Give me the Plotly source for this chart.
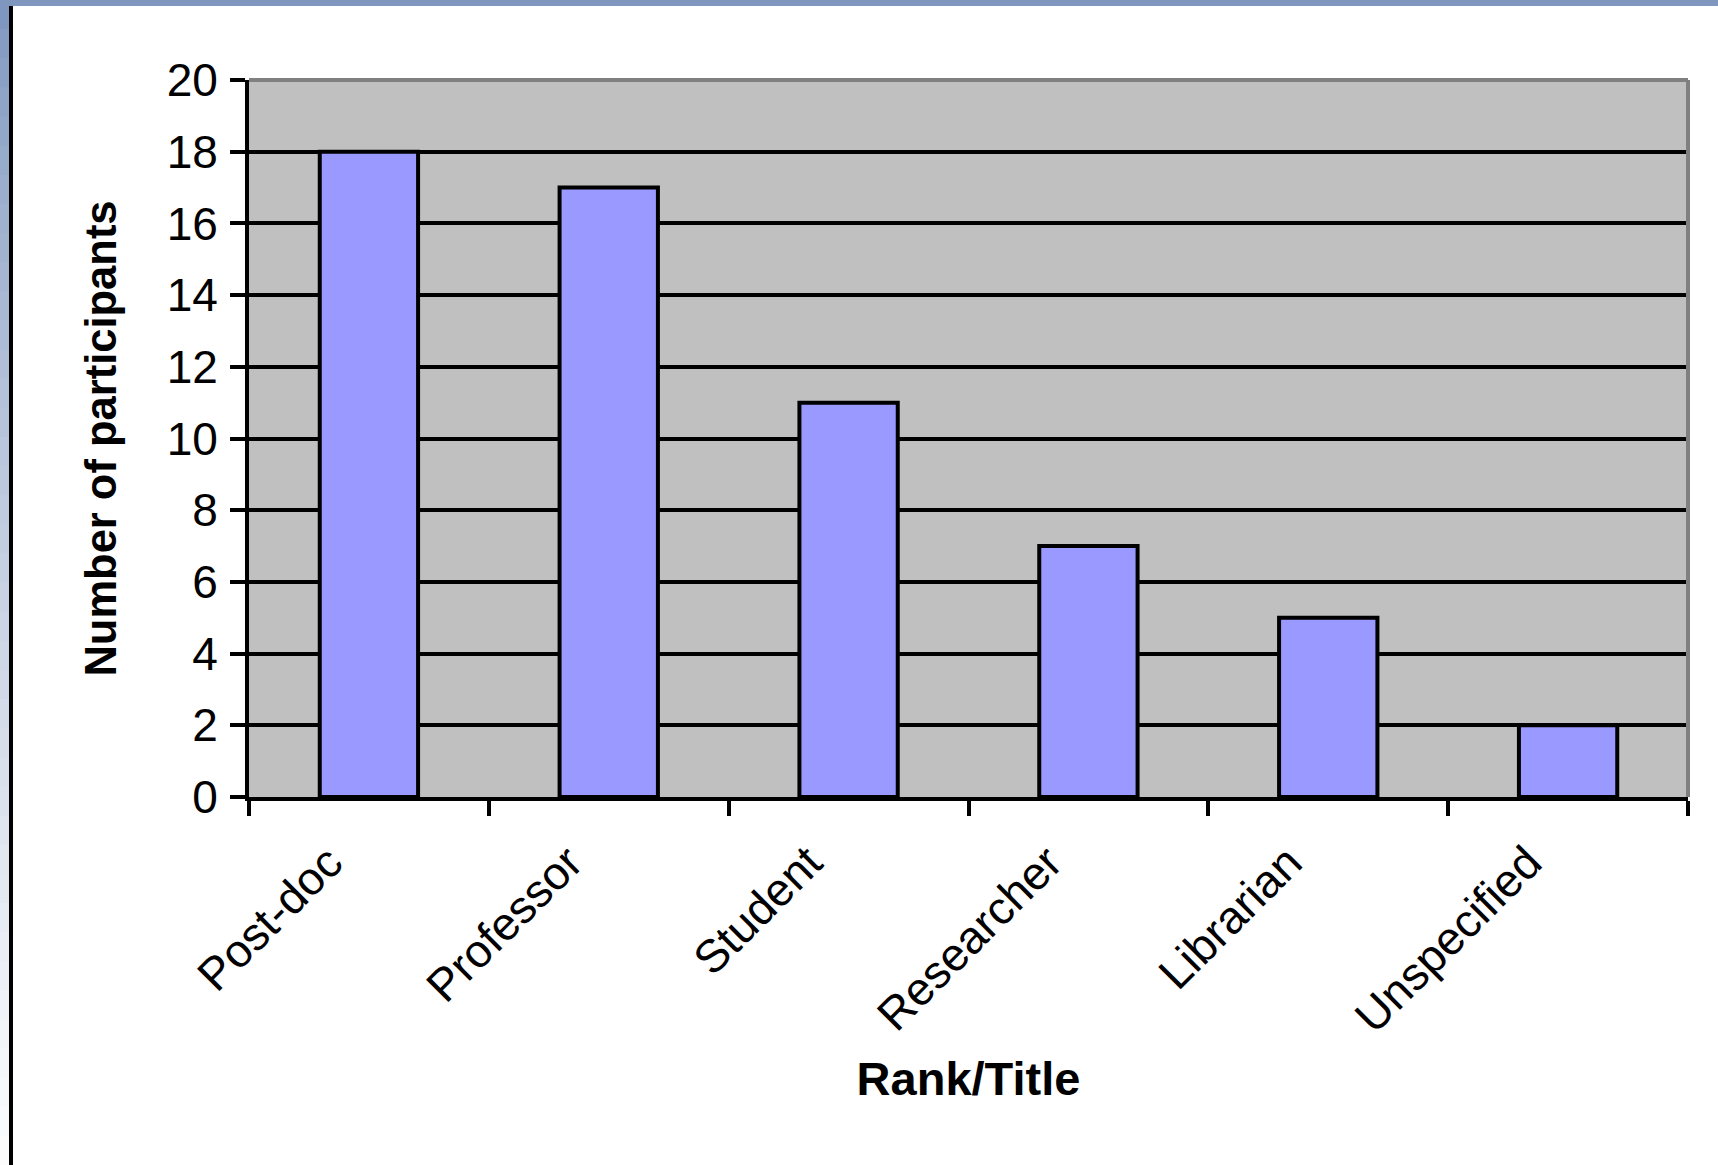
import plotly.graph_objects as go

# Survey respondents grouped by rank / title
categories = ["Post-doc", "Professor", "Student", "Researcher", "Librarian", "Unspecified"]
participants = [18, 17, 11, 7, 5, 2]
y_tick_values = [0, 2, 4, 6, 8, 10, 12, 14, 16, 18, 20]

FIG_W, FIG_H = 1718, 1165
M_L, M_R, M_T, M_B = 249, 30, 80, 368
PLOT_W = FIG_W - M_L - M_R
PLOT_H = FIG_H - M_T - M_B
FONT = "Liberation Sans, Arial, sans-serif"


def px_x(px):
    """Page pixel column -> paper x fraction."""
    return (px - M_L) / PLOT_W


def px_y(py):
    """Page pixel row (from top) -> paper y fraction."""
    return (FIG_H - M_B - py) / PLOT_H


fig = go.Figure(
    go.Bar(
        x=categories,
        y=participants,
        width=0.41,
        marker=dict(color="#9999ff", line=dict(color="black", width=4)),
        hoverinfo="x+y",
    )
)

shapes = []

# slide frame: blue band on top, fading strip on the left, black rule
top_rgb = (127, 151, 191)
bottom_rgb = (252, 252, 253)
n_seg = 40
for i in range(n_seg):
    t = i / (n_seg - 1)
    t = t ** 0.8
    c = tuple(round(a + (b - a) * t) for a, b in zip(top_rgb, bottom_rgb))
    y0 = FIG_H * i / n_seg
    y1 = FIG_H * (i + 1) / n_seg + 1
    shapes.append(dict(type="rect", xref="paper", yref="paper",
                       x0=px_x(0), x1=px_x(9), y0=px_y(y1), y1=px_y(y0),
                       fillcolor="rgb(%d,%d,%d)" % c, line=dict(width=0), layer="below"))
shapes.append(dict(type="rect", xref="paper", yref="paper",
                   x0=px_x(0), x1=px_x(FIG_W), y0=px_y(6), y1=px_y(0),
                   fillcolor="#7f97bf", line=dict(width=0)))
shapes.append(dict(type="rect", xref="paper", yref="paper",
                   x0=px_x(9), x1=px_x(13), y0=px_y(FIG_H), y1=px_y(6),
                   fillcolor="black", line=dict(width=0)))

# grey frame on the top and right of the plot area
shapes.append(dict(type="line", xref="paper", yref="paper", x0=0, x1=1, y0=1, y1=1,
                   line=dict(color="#808080", width=4)))
shapes.append(dict(type="line", xref="paper", yref="paper", x0=1, x1=1, y0=0, y1=1,
                   line=dict(color="#808080", width=4)))

fig.update_layout(
    width=FIG_W,
    height=FIG_H,
    margin=dict(l=M_L, r=M_R, t=M_T, b=M_B, pad=0),
    paper_bgcolor="white",
    plot_bgcolor="#c0c0c0",
    font=dict(family=FONT, color="black"),
    showlegend=False,
    bargap=0.59,
    shapes=shapes,
)

fig.update_xaxes(
    type="category",
    range=[-0.5, len(categories) - 0.5],
    tickson="boundaries",
    ticks="outside",
    ticklen=15,
    tickwidth=4,
    tickcolor="black",
    tickangle=-45,
    ticklabelshift=-40,
    ticklabelstandoff=16,
    tickfont=dict(family=FONT, size=46, color="black"),
    showline=True,
    linecolor="black",
    linewidth=4,
    showgrid=False,
    zeroline=False,
    automargin=False,
    title=dict(text="Rank/Title", font=dict(family=FONT, size=47, weight="bold", color="black"),
               standoff=22),
)

fig.update_yaxes(
    range=[0, 20],
    tickvals=y_tick_values,
    ticks="outside",
    ticklen=15,
    tickwidth=4,
    tickcolor="black",
    ticklabelstandoff=3,
    tickfont=dict(family=FONT, size=46, color="black"),
    showline=True,
    linecolor="black",
    linewidth=4,
    showgrid=True,
    gridcolor="black",
    gridwidth=4,
    zeroline=False,
    automargin=False,
    title=dict(text="Number of participants",
               font=dict(family=FONT, size=43.5, weight="bold", color="black"),
               standoff=37),
)

fig.write_html("out.html")
